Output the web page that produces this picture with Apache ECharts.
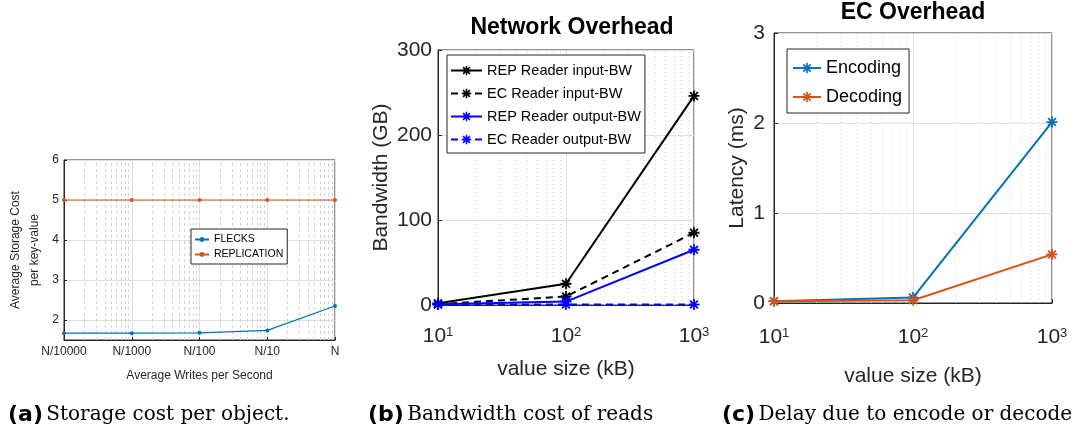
<!DOCTYPE html>
<html><head><meta charset="utf-8">
<script src="https://cdn.jsdelivr.net/npm/echarts@6/dist/echarts.min.js"></script>
<style>html,body{margin:0;padding:0;background:#fff}#c{width:1075px;height:432px}</style>
</head><body><div id="c"></div>
<script>
// ---- (a) Storage cost ----
const writeLabels = ['N/10000', 'N/1000', 'N/100', 'N/10', 'N'];
const writeRates = [0.0001, 0.001, 0.01, 0.1, 1];
const flecks = [1.67, 1.67, 1.68, 1.74, 2.35];
const replication = [5, 5, 5, 5, 5];
// ---- (b) Network overhead ----
const valueSizes = [10, 100, 1000];
const repInput = [2, 25, 246];
const ecInput = [1, 10, 85];
const repOutput = [0.8, 4, 65];
const ecOutput = [0.5, 0.5, 0.5];
// ---- (c) EC overhead ----
const encoding = [0.02, 0.06, 2.01];
const decoding = [0.02, 0.03, 0.54];
// minor log gridline multipliers
const minorSteps = [2, 3, 4, 5, 6, 7, 8, 9];
const decadesA = [0.0001, 0.001, 0.01, 0.1];
const decadesBC = [10, 100];

const FONT = '"Liberation Sans", Arial, sans-serif';
const AX = '#262626';
const GRID = '#dedede';
const BLUE = '#0072BD', ORANGE = '#D95319';
const STAR = 'path://M-0.8,-5L0.8,-5L0.8,5L-0.8,5Z M-5,-0.8L5,-0.8L5,0.8L-5,0.8Z M2.97,4.11L-4.11,-2.97L-2.97,-4.11L4.11,2.97Z M4.11,-2.97L-2.97,4.11L-4.11,2.97L2.97,-4.11Z';

function minorGrid(decades, xi, y0, y1, type) {
  const d = [];
  decades.forEach(dec => minorSteps.forEach(s => {
    const x = +(dec * s).toPrecision(6);
    d.push({ coords: [[x, y0], [x, y1]] });
  }));
  return { type: 'lines', coordinateSystem: 'cartesian2d', xAxisIndex: xi, yAxisIndex: xi, silent: true, z: 1,
    lineStyle: { type: type, color: '#d2d2d2', width: 1, opacity: 1, curveness: 0 }, data: d };
}
function pairs(xs, ys) { return xs.map((x, i) => [x, ys[i]]); }

const chart = echarts.init(document.getElementById('c'), null, { renderer: 'canvas' });
const gridBase = { show: true, borderColor: AX, borderWidth: 1, backgroundColor: 'transparent', containLabel: false };
const supRich = {
  b: { fontSize: 21, fontFamily: FONT, color: AX },
  s: { fontSize: 13, fontFamily: FONT, color: AX, verticalAlign: 'top' }
};
const capRich = {
  a: { fontFamily: '"DejaVu Sans"', fontWeight: 'bold', fontSize: 22, fill: '#000' },
  r: { fontFamily: '"DejaVu Serif"', fontSize: 20, fill: '#000' }
};

chart.setOption({
  animation: false,
  grid: [
    Object.assign({ left: 64, top: 160, width: 271, height: 180 }, gridBase),
    Object.assign({ left: 438, top: 50, width: 256, height: 255 }, gridBase),
    Object.assign({ left: 774, top: 33, width: 278, height: 270 }, gridBase)
  ],
  xAxis: [
    { type: 'log', gridIndex: 0, min: 0.0001, max: 1, logBase: 10,
      axisLine: { lineStyle: { color: AX } }, axisTick: { inside: true, length: 3, lineStyle: { color: AX } },
      axisLabel: { fontSize: 12, fontFamily: FONT, color: AX, margin: 6,
        formatter: v => writeLabels[Math.round(Math.log10(v)) + 4] },
      splitLine: { show: true, lineStyle: { color: GRID } },
      name: 'Average Writes per Second', nameLocation: 'middle', nameGap: 30,
      nameTextStyle: { fontSize: 12, fontFamily: FONT, color: AX } },
    { type: 'log', gridIndex: 1, min: 10, max: 1000, logBase: 10,
      axisLine: { lineStyle: { color: AX } }, axisTick: { inside: true, length: 4, lineStyle: { color: AX } },
      axisLabel: { margin: 21, formatter: v => '{b|10}{s|' + Math.round(Math.log10(v)) + '}', rich: supRich },
      splitLine: { show: true, lineStyle: { color: GRID } },
      name: 'value size (kB)', nameLocation: 'middle', nameGap: 54,
      nameTextStyle: { fontSize: 21, fontFamily: FONT, color: AX } },
    { type: 'log', gridIndex: 2, min: 10, max: 1000, logBase: 10,
      axisLine: { lineStyle: { color: AX } }, axisTick: { inside: true, length: 4, lineStyle: { color: AX } },
      axisLabel: { margin: 24, formatter: v => '{b|10}{s|' + Math.round(Math.log10(v)) + '}', rich: supRich },
      splitLine: { show: true, lineStyle: { color: GRID } },
      name: 'value size (kB)', nameLocation: 'middle', nameGap: 63,
      nameTextStyle: { fontSize: 21, fontFamily: FONT, color: AX } }
  ],
  yAxis: [
    { type: 'value', gridIndex: 0, min: 1.5, max: 6, splitNumber: 5,
      axisLine: { show: true, lineStyle: { color: AX } }, axisTick: { show: true, inside: true, length: 3, lineStyle: { color: AX } },
      axisLabel: { fontSize: 12, fontFamily: FONT, color: AX, margin: 5, showMinLabel: false,
        formatter: v => Number.isInteger(v) ? String(v) : '' },
      splitLine: { show: true, lineStyle: { color: GRID } },
      name: 'Average Storage Cost\nper key-value', nameLocation: 'middle', nameGap: 20,
      nameTextStyle: { fontSize: 12, fontFamily: FONT, color: AX, lineHeight: 19 } },
    { type: 'value', gridIndex: 1, min: 0, max: 300, interval: 100,
      axisLine: { show: true, lineStyle: { color: AX } }, axisTick: { show: true, inside: true, length: 4, lineStyle: { color: AX } },
      axisLabel: { fontSize: 21, fontFamily: FONT, color: AX, margin: 6 },
      splitLine: { show: true, lineStyle: { color: GRID } },
      name: 'Bandwidth (GB)', nameLocation: 'middle', nameGap: 46,
      nameTextStyle: { fontSize: 21, fontFamily: FONT, color: AX } },
    { type: 'value', gridIndex: 2, min: 0, max: 3, interval: 1,
      axisLine: { show: true, lineStyle: { color: AX } }, axisTick: { show: true, inside: true, length: 4, lineStyle: { color: AX } },
      axisLabel: { fontSize: 21, fontFamily: FONT, color: AX, margin: 9 },
      splitLine: { show: true, lineStyle: { color: GRID } },
      name: 'Latency (ms)', nameLocation: 'middle', nameGap: 26,
      nameTextStyle: { fontSize: 21, fontFamily: FONT, color: AX } }
  ],
  legend: [
    { data: ['FLECKS', 'REPLICATION'], orient: 'vertical', left: 191, top: 229, padding: [5, 4, 4, 3],
      itemWidth: 14, itemHeight: 6, itemGap: 4, borderColor: AX, borderWidth: 1, backgroundColor: '#fff',
      textStyle: { fontSize: 10.5, fontFamily: FONT, color: '#000' } },
    { data: ['REP Reader input-BW', 'EC Reader input-BW', 'REP Reader output-BW', 'EC Reader output-BW'],
      orient: 'vertical', left: 447, top: 55, padding: [8, 4, 6, 3],
      itemWidth: 31, itemHeight: 12, itemGap: 8, borderColor: AX, borderWidth: 1, backgroundColor: '#fff',
      textStyle: { fontSize: 14.5, fontFamily: FONT, color: '#000' } },
    { data: ['Encoding', 'Decoding'], orient: 'vertical', left: 787, top: 49, padding: [10, 7, 7, 5],
      itemWidth: 28, itemHeight: 13, itemGap: 11, borderColor: AX, borderWidth: 1, backgroundColor: '#fff',
      textStyle: { fontSize: 18, fontFamily: FONT, color: '#000' } }
  ],
  graphic: [
    { type: 'text', x: 572, y: 28, style: { text: 'Network Overhead', font: 'bold 23px ' + FONT, fill: '#000', textAlign: 'center', textVerticalAlign: 'middle' } },
    { type: 'text', x: 913, y: 13, style: { text: 'EC Overhead', font: 'bold 23px ' + FONT, fill: '#000', textAlign: 'center', textVerticalAlign: 'middle' } },
    { type: 'text', x: 8, y: 415, style: { text: '{a|(a)} {r|Storage cost per object.}', textVerticalAlign: 'middle', rich: capRich } },
    { type: 'text', x: 368, y: 415, style: { text: '{a|(b)} {r|Bandwidth cost of reads}', textVerticalAlign: 'middle', rich: capRich } },
    { type: 'text', x: 722, y: 415, style: { text: '{a|(c)} {r|Delay due to encode or decode}', textVerticalAlign: 'middle', rich: capRich } }
  ],
  series: [
    minorGrid(decadesA, 0, 1.5, 6, [3, 3]),
    minorGrid(decadesBC, 1, 0, 300, [1, 3]),
    minorGrid(decadesBC, 2, 0, 3, [1, 3]),

    { type: 'line', name: 'FLECKS', xAxisIndex: 0, yAxisIndex: 0, data: pairs(writeRates, flecks),
      symbol: 'circle', symbolSize: 4, lineStyle: { color: BLUE, width: 1.2 }, itemStyle: { color: BLUE }, z: 3 },
    { type: 'line', name: 'REPLICATION', xAxisIndex: 0, yAxisIndex: 0, data: pairs(writeRates, replication),
      symbol: 'circle', symbolSize: 4, lineStyle: { color: ORANGE, width: 1.2 }, itemStyle: { color: ORANGE }, z: 3 },

    { type: 'line', name: 'REP Reader input-BW', xAxisIndex: 1, yAxisIndex: 1, data: pairs(valueSizes, repInput),
      symbol: STAR, symbolSize: 11, lineStyle: { color: '#000', width: 2 }, itemStyle: { color: '#000' }, z: 3 },
    { type: 'line', name: 'EC Reader input-BW', xAxisIndex: 1, yAxisIndex: 1, data: pairs(valueSizes, ecInput),
      symbol: STAR, symbolSize: 11, lineStyle: { color: '#000', width: 2, type: [7, 5] }, itemStyle: { color: '#000' }, z: 3 },
    { type: 'line', name: 'REP Reader output-BW', xAxisIndex: 1, yAxisIndex: 1, data: pairs(valueSizes, repOutput),
      symbol: STAR, symbolSize: 11, lineStyle: { color: '#0000FF', width: 2 }, itemStyle: { color: '#0000FF' }, z: 3 },
    { type: 'line', name: 'EC Reader output-BW', xAxisIndex: 1, yAxisIndex: 1, data: pairs(valueSizes, ecOutput),
      symbol: STAR, symbolSize: 11, lineStyle: { color: '#0000FF', width: 2, type: [7, 5] }, itemStyle: { color: '#0000FF' }, z: 3 },

    { type: 'line', name: 'Encoding', xAxisIndex: 2, yAxisIndex: 2, data: pairs(valueSizes, encoding),
      symbol: STAR, symbolSize: 11, lineStyle: { color: BLUE, width: 2 }, itemStyle: { color: BLUE }, z: 3 },
    { type: 'line', name: 'Decoding', xAxisIndex: 2, yAxisIndex: 2, data: pairs(valueSizes, decoding),
      symbol: STAR, symbolSize: 11, lineStyle: { color: ORANGE, width: 2 }, itemStyle: { color: ORANGE }, z: 3 }
  ]
});
</script></body></html>
